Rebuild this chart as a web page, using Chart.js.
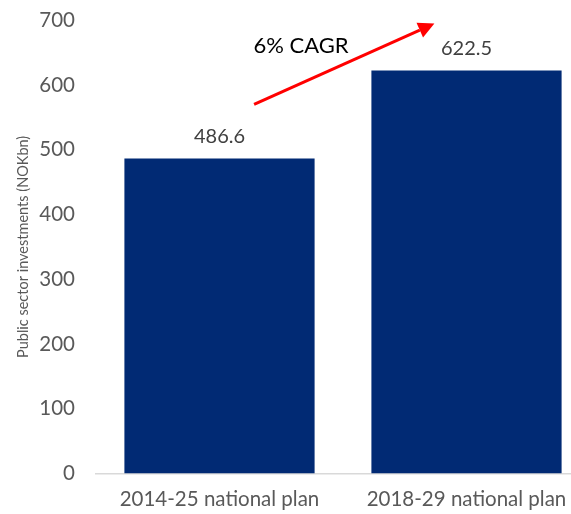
<!DOCTYPE html>
<html>
<head>
<meta charset="utf-8">
<script src="https://cdn.jsdelivr.net/npm/chart.js@4/dist/chart.umd.min.js"></script>
<style>
  html, body { margin: 0; padding: 0; background: #fff; overflow: hidden; }
  #wrap { width: 590px; height: 539px; position: relative; margin-top: -13px; }
</style>
</head>
<body>
<div id="wrap"><canvas id="c"></canvas></div>
<script>
// Plans and their planned public sector investments (NOK bn)
const categories = ['2014-25 national plan', '2018-29 national plan'];
const investments = [486.6, 622.5];
const yTicks = [0, 100, 200, 300, 400, 500, 600, 700];

// Growth arrow, given in scale units (category index, value)
const cagrText = '6% CAGR';
const arrowFrom = { x: 0.14, y: 570 };
const arrowTo = { x: 0.87, y: 695 };
const cagrLabelAt = { x: 0.33, y: 661 };

const FONT = 'Lato, "Open Sans", "Liberation Sans", sans-serif';

const valueLabels = {
  id: 'valueLabels',
  afterDatasetsDraw(chart) {
    const ctx = chart.ctx;
    const meta = chart.getDatasetMeta(0);
    ctx.save();
    ctx.font = '20px ' + FONT;
    ctx.fillStyle = '#404040';
    ctx.textAlign = 'center';
    ctx.textBaseline = 'bottom';
    meta.data.forEach((bar, i) => {
      ctx.fillText(investments[i].toFixed(1), bar.x, bar.y - 12);
    });
    ctx.restore();
  }
};

const cagrArrow = {
  id: 'cagrArrow',
  afterDraw(chart) {
    const { ctx, scales: { x, y } } = chart;
    const x0 = x.getPixelForValue(arrowFrom.x), y0 = y.getPixelForValue(arrowFrom.y);
    const x1 = x.getPixelForValue(arrowTo.x), y1 = y.getPixelForValue(arrowTo.y);
    const ang = Math.atan2(y1 - y0, x1 - x0);
    const head = 16, half = 8;
    const bx = x1 - head * Math.cos(ang), by = y1 - head * Math.sin(ang);
    ctx.save();
    ctx.strokeStyle = '#ff0000';
    ctx.fillStyle = '#ff0000';
    ctx.lineWidth = 3;
    ctx.beginPath();
    ctx.moveTo(x0, y0);
    ctx.lineTo(bx, by);
    ctx.stroke();
    ctx.beginPath();
    ctx.moveTo(x1, y1);
    ctx.lineTo(bx + half * Math.sin(ang), by - half * Math.cos(ang));
    ctx.lineTo(bx - half * Math.sin(ang), by + half * Math.cos(ang));
    ctx.closePath();
    ctx.fill();
    ctx.font = '22px ' + FONT;
    ctx.fillStyle = '#000';
    ctx.textAlign = 'center';
    ctx.textBaseline = 'middle';
    ctx.fillText(cagrText, x.getPixelForValue(cagrLabelAt.x), y.getPixelForValue(cagrLabelAt.y));
    ctx.restore();
  }
};

new Chart(document.getElementById('c'), {
  type: 'bar',
  data: {
    labels: categories,
    datasets: [{
      data: investments,
      backgroundColor: '#012a74',
      categoryPercentage: 0.77,
      barPercentage: 1.0
    }]
  },
  options: {
    responsive: true,
    maintainAspectRatio: false,
    animation: false,
    layout: { padding: { top: -1, right: 0, left: 15, bottom: 0 } },
    plugins: { legend: { display: false }, tooltip: { enabled: false } },
    scales: {
      x: {
        grid: { display: false, drawTicks: false },
        border: { display: true, color: '#d9d9d9', width: 1.5 },
        ticks: { color: '#595959', font: { family: FONT, size: 20.5 }, padding: 14 }
      },
      y: {
        min: 0, max: 700,
        afterBuildTicks(axis) { axis.ticks = yTicks.map(v => ({ value: v })); },
        afterFit(axis) { axis.width = 81; },
        grid: { display: false, drawTicks: false },
        border: { display: false },
        ticks: { color: '#595959', font: { family: FONT, size: 20.5 }, padding: 21 },
        title: {
          display: true,
          text: 'Public sector investments (NOKbn)',
          color: '#595959',
          font: { family: FONT, size: 14.5 },
          padding: { top: 0, bottom: 0 }
        }
      }
    }
  },
  plugins: [valueLabels, cagrArrow]
});
</script>
</body>
</html>
